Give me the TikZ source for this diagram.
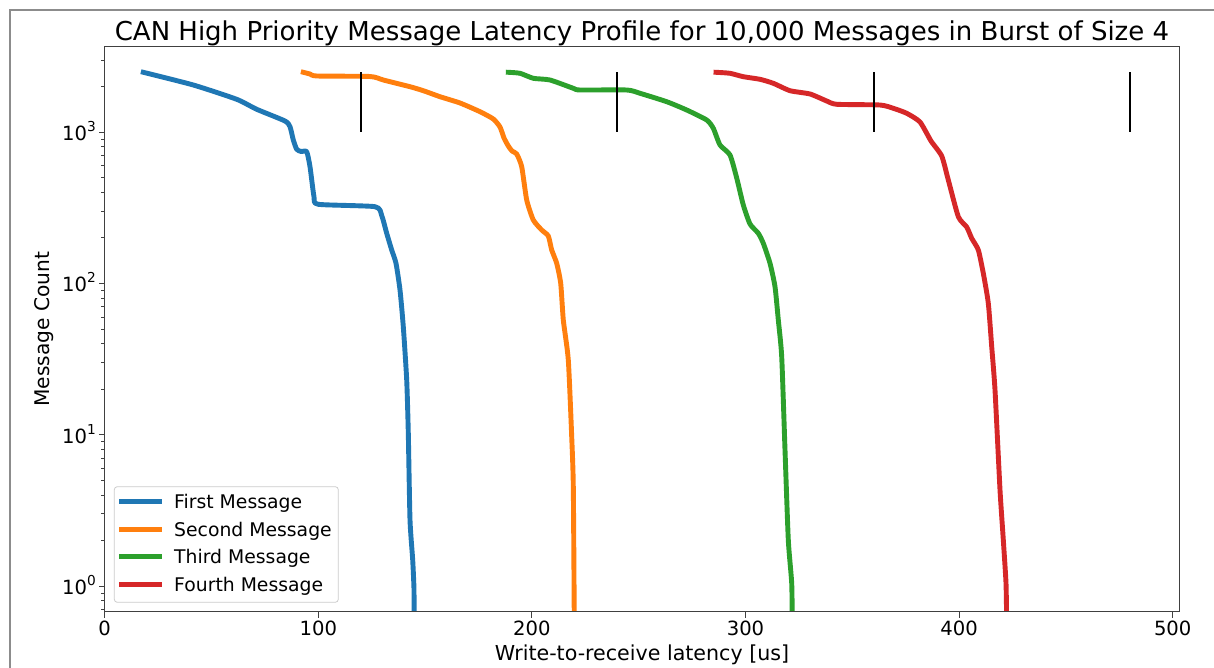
\documentclass[tikz,border=0pt]{standalone}
\usepackage{fontspec}
\setmainfont{DejaVu Sans}
\definecolor{tabblue}{HTML}{1F77B4}
\definecolor{taborange}{HTML}{FF7F0E}
\definecolor{tabgreen}{HTML}{2CA02C}
\definecolor{tabred}{HTML}{D62728}
\definecolor{framegray}{HTML}{8C8C8C}
\definecolor{spinegray}{HTML}{404040}
\definecolor{legendgray}{HTML}{CCCCCC}
\newcommand{\tickfont}{\fontsize{19.6}{22}\selectfont}
\newcommand{\decade}[1]{10\raisebox{0.46em}{\fontsize{13.7}{14}\selectfont #1}}
\tikzset{
  curve/.style={line width=4.9pt, line join=round, line cap=rect},
  refmark/.style={line width=1.8pt, black},
  spine/.style={line width=1pt, spinegray},
  majortick/.style={line width=1pt, spinegray},
  minortick/.style={line width=0.8pt, spinegray},
  ticklabel/.style={inner sep=0pt, font=\tickfont},
  legendtext/.style={inner sep=0pt, anchor=base west, font=\fontsize{18.8}{21}\selectfont},
}
\begin{document}
% pixel-like units, y pointing down
\begin{tikzpicture}[x=1pt, y=-1pt]
\useasboundingbox (0,0) rectangle (1214,668);
\fill[white] (0,0) rectangle (1214,668);
\begin{scope}
  \clip (0,0) rectangle (1214,668);
  \draw[framegray, line width=1.6pt] (9.8,700) -- (9.8,9.8) -- (1240,9.8);
\end{scope}

% axes box corners
\coordinate (axNW) at (104.7,46.7);
\coordinate (axSE) at (1179.3,611.7);

% title
\node[inner sep=0pt, anchor=base, font=\fontsize{26}{30}\selectfont] (title) at (642,40.7)
  {CAN High Priority Message Latency Profile for 10,000 Messages in Burst of Size 4};

% data curves, clipped to the axes
\begin{scope}
  \clip (axNW) rectangle (axSE);
  \draw[curve, tabblue] plot[smooth, tension=0.35] coordinates {
    (143.3,72.3) (193.3,85) (236.7,99.3) (256.7,109.3) (285,121) (290,126.7)
    (293.3,140) (296.7,149.3) (301,151.5) (306.7,151.7) (310,166.7) (314,196.7)
    (318.3,204.3) (375,206.7) (381.7,215.5) (386.7,233.3) (391.7,250) (396,263.3)
    (400,290) (403.3,326.7) (406.7,380) (408.3,433.3) (410,520) (412.7,560)
    (414,590) (414,625)};
  \draw[curve, taborange] plot[smooth, tension=0.35] coordinates {
    (303.3,72.3) (310,74) (316.7,76) (370,76.5) (383.3,80) (410,86.7) (423.3,90.7)
    (440,96.7) (460,103) (480,111.7) (493.3,119) (500,127) (504,138) (508.3,146)
    (512,151) (516.7,154) (521.7,166.7) (526.7,200) (533.3,220) (541.7,230)
    (548.3,236) (551.7,250) (556.7,263.3) (560.7,283.3) (563.3,320) (568.3,360)
    (571.7,436.7) (573.3,486.7) (574.3,625)};
  \draw[curve, tabgreen] plot[smooth, tension=0.35] coordinates {
    (508.3,72.3) (520,73.3) (533.3,78.3) (550,80) (573.3,88.3) (580,90) (626.7,90)
    (640,93.3) (666.7,101.7) (686.7,110) (706.7,120) (713.3,128.3) (720,145)
    (730,155) (736.7,178) (743.3,205) (750,224) (758.3,233.3) (763.3,243.3)
    (770,263.3) (775,286.7) (778.3,320) (781.7,356.7) (785,450) (788.3,540)
    (791.7,583.3) (792.3,625)};
  \draw[curve, tabred] plot[smooth, tension=0.35] coordinates {
    (716,72.3) (730,73.3) (743.3,76.7) (760,79.3) (773.3,83.3) (790,90.7) (810,94)
    (826.7,101) (836.7,104.3) (880,105) (893.3,108.3) (906.7,113.3) (920,122)
    (931,141) (941.7,156) (948.3,180) (958.3,216.7) (966.7,227) (971.7,238.3)
    (978.3,250) (983.3,273.3) (988.3,303.3) (991.7,346.7) (995,390) (1000,490)
    (1003.3,540) (1006,583.3) (1006.7,625)};
\end{scope}

% burst slot markers at 120, 240, 360, 480 us
\foreach \v in {120,240,360,480}{
  \pgfmathsetmacro\xx{104.7+2.136*\v}
  \draw[refmark] (\xx,72.3) -- (\xx,132);
}

% spines
\draw[spine] (axNW) rectangle (axSE);

% x ticks and labels
\foreach \v in {0,100,200,300,400,500}{
  \pgfmathsetmacro\xx{104.7+2.136*\v}
  \draw[majortick] (\xx,611.7) -- (\xx,617.5);
  \node[ticklabel, anchor=base] (xt\v) at (\xx,635.7) {\v};
}

% y major ticks and labels
\foreach \d in {0,1,2,3}{
  \pgfmathsetmacro\yy{586-151.3*\d}
  \draw[majortick] (104.7,\yy) -- (98.9,\yy);
  \node[ticklabel, anchor=base east] (yt\d) at (96,\yy+8.5) {\decade{\d}};
}

% y minor ticks
\foreach \d in {-1,0,1,2,3}{
  \foreach \m in {2,...,9}{
    \pgfmathsetmacro\yy{586-151.3*(\d+log10(\m))}
    \pgfmathparse{and(\yy<611.7,\yy>46.7)}
    \ifdim\pgfmathresult pt>0.5pt
      \draw[minortick] (104.7,\yy) -- (101.2,\yy);
    \fi
  }
}

% axis labels
\node[inner sep=0pt, anchor=base, font=\fontsize{20.6}{23}\selectfont] (xlabel) at (642,660)
  {Write-to-receive latency [us]};
\node[inner sep=0pt, anchor=base, rotate=90, font=\fontsize{20.2}{23}\selectfont] (ylabel) at (49,329)
  {Message Count};

% legend
\draw[legendgray, fill=white, fill opacity=0.8, line width=0.8pt, rounded corners=3pt]
  (114.3,486.7) rectangle (338.3,602.3);
\foreach \c/\t/\y [count=\i] in {tabblue/First Message/501.7, taborange/Second Message/529.3,
    tabgreen/Third Message/556.7, tabred/Fourth Message/584.3}{
  \draw[curve, line cap=butt, \c] (119,\y) -- (161.7,\y);
  \node[legendtext] (leg\i) at (174,\y+7) {\t};
}
\end{tikzpicture}
\end{document}
